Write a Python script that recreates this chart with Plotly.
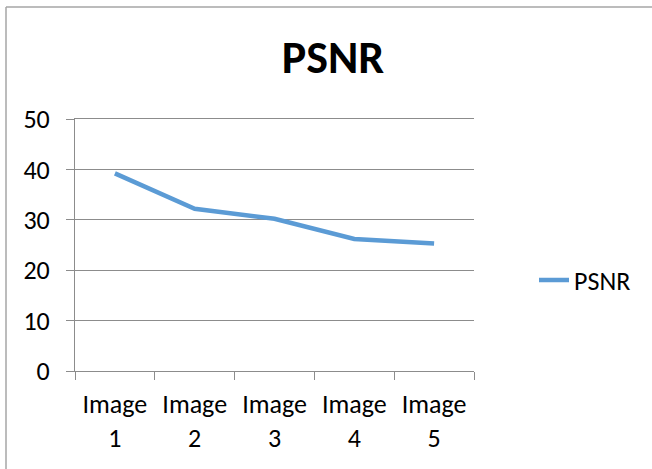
import plotly.graph_objects as go

categories = ["Image<br>1", "Image<br>2", "Image<br>3", "Image<br>4", "Image<br>5"]
psnr_values = [39.2, 32.2, 30.2, 26.2, 25.3]
y_ticks = [0, 10, 20, 30, 40, 50]

FONT = "Carlito, Calibri, Liberation Sans, Arial, sans-serif"
GRID = "#8c8c8c"

fig = go.Figure()
fig.add_trace(go.Scatter(
    x=categories, y=psnr_values, mode="lines", name="PSNR",
    line=dict(color="#5B9BD5", width=4.5),
))

W, H = 652, 469
L, R, T, B = 75, 178, 119, 98
pw, ph = W - L - R, H - T - B

def px_x(p):
    return (p - L) / pw

def px_y(p):
    return (H - B - p) / ph

fig.update_layout(
    width=W, height=H,
    margin=dict(l=L, r=R, t=T, b=B),
    paper_bgcolor="white", plot_bgcolor="white",
    font=dict(family=FONT, color="black", size=26),
    title=dict(text="<b>PSNR</b>", font=dict(size=46, family=FONT, color="black"),
               x=333 / W, xanchor="center", xref="container",
               y=1 - 57 / H, yanchor="middle", yref="container"),
    showlegend=True,
    legend=dict(x=px_x(534), xanchor="left", y=px_y(280), yanchor="middle",
                font=dict(size=26, family=FONT, color="black"),
                bgcolor="rgba(0,0,0,0)", itemwidth=30),
    xaxis=dict(
        type="category", tickson="boundaries", ticks="outside", ticklen=8,
        tickcolor=GRID, tickwidth=1, showline=True, linecolor=GRID, linewidth=1,
        mirror=True,
        showgrid=False, tickfont=dict(size=26, family=FONT, color="black"),
        ticklabelstandoff=10, range=[-0.5, 4.5],
    ),
    yaxis=dict(
        range=[0, 50], tickvals=y_ticks, ticks="outside", ticklen=8,
        tickcolor=GRID, tickwidth=1, showline=True, linecolor=GRID, linewidth=1,
        showgrid=True, gridcolor=GRID, gridwidth=1, zeroline=False,
        tickfont=dict(size=26, family=FONT, color="black"),
        ticklabelstandoff=11,
    ),
    shapes=[
        dict(type="line", xref="paper", yref="paper",
             x0=px_x(6), x1=px_x(6), y0=px_y(7), y1=px_y(480),
             line=dict(color="#a6a6a6", width=1.5)),
        dict(type="line", xref="paper", yref="paper",
             x0=px_x(6), x1=px_x(660), y0=px_y(7), y1=px_y(7),
             line=dict(color="#a6a6a6", width=1.5)),
    ],
)

fig.write_html("out.html", config={"displayModeBar": False},
               post_script="document.body.style.margin='0';")
